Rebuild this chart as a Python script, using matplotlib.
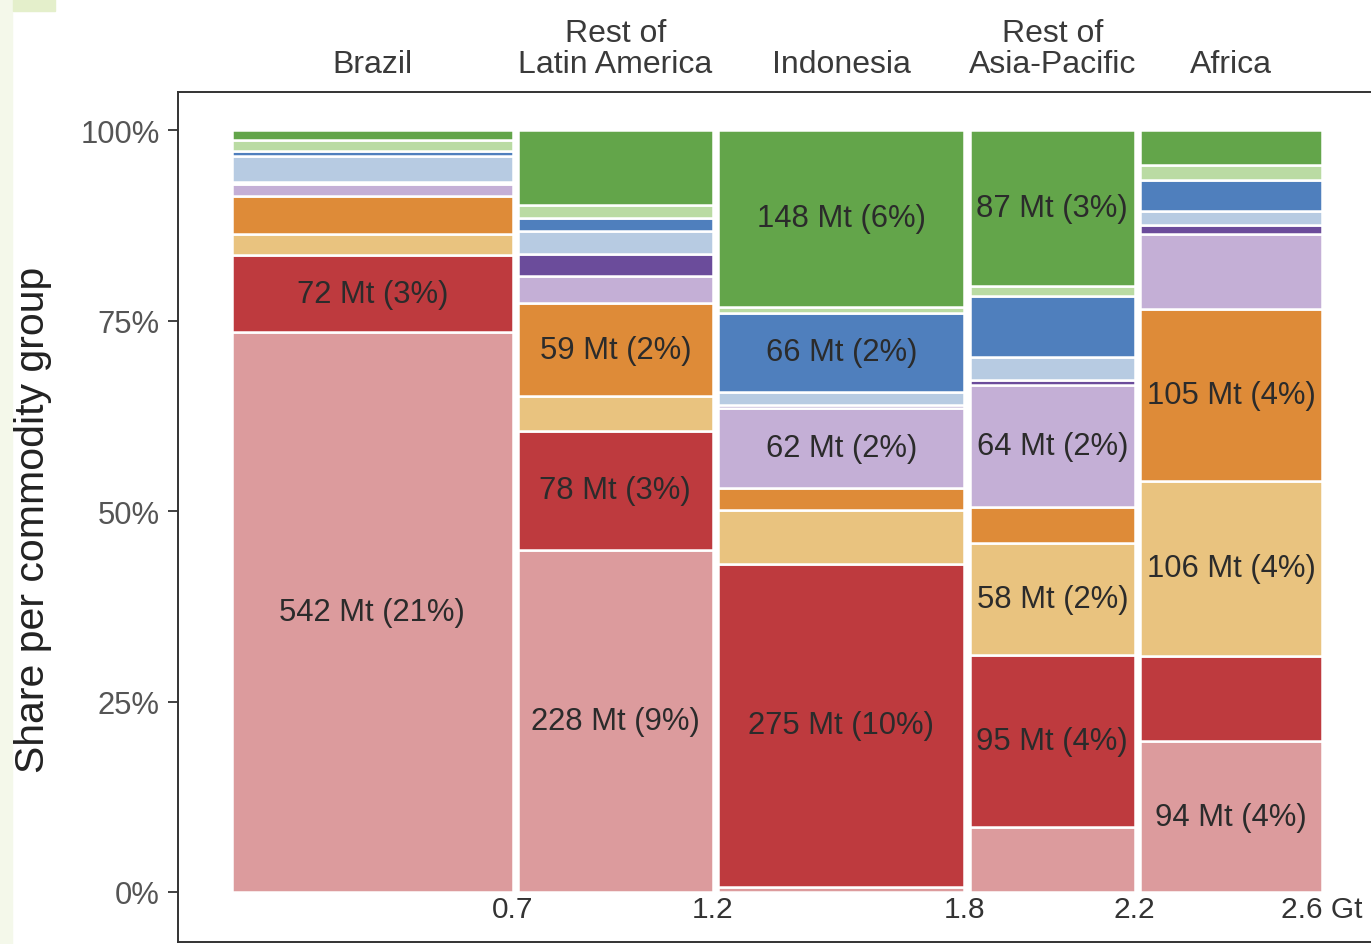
import matplotlib.pyplot as plt
import matplotlib.patches as mpatches
import numpy as np

plt.rcParams["font.family"] = ["Liberation Sans", "DejaVu Sans"]

regions = ["Brazil", "Rest of\nLatin America", "Indonesia", "Rest of\nAsia-Pacific", "Africa"]
region_total_mt = [679, 475, 598, 404, 444]

# shares (%) per commodity group, stacked bottom -> top, one value per region
share_g1 = [73.5, 44.9, 0.7, 8.5, 19.8]    # pink
share_g2 = [10.2, 15.6, 42.4, 22.6, 11.2]  # red
share_g3 = [2.8, 4.5, 7.1, 14.7, 23.0]     # tan
share_g4 = [4.9, 12.2, 2.9, 4.7, 22.6]     # orange
share_g5 = [1.6, 3.5, 10.5, 16.0, 9.8]     # light purple
share_g6 = [0.3, 3.0, 0.4, 0.7, 1.2]       # purple
share_g7 = [3.4, 3.0, 1.7, 3.0, 1.8]       # light blue
share_g8 = [0.7, 1.7, 10.4, 8.0, 4.1]      # blue
share_g9 = [1.4, 1.7, 0.8, 1.3, 2.0]       # light green
share_g10 = [1.3, 9.8, 23.2, 20.5, 4.6]    # green

# (region, group, text)
seg_labels = [
    (0, 0, "542 Mt (21%)"), (0, 1, "72 Mt (3%)"),
    (1, 0, "228 Mt (9%)"), (1, 1, "78 Mt (3%)"), (1, 3, "59 Mt (2%)"),
    (2, 1, "275 Mt (10%)"), (2, 4, "62 Mt (2%)"), (2, 7, "66 Mt (2%)"), (2, 9, "148 Mt (6%)"),
    (3, 1, "95 Mt (4%)"), (3, 2, "58 Mt (2%)"), (3, 4, "64 Mt (2%)"), (3, 9, "87 Mt (3%)"),
    (4, 0, "94 Mt (4%)"), (4, 2, "106 Mt (4%)"), (4, 3, "105 Mt (4%)"),
]

colors = ["#dc9b9d", "#be3a3e", "#e9c37f", "#de8b38", "#c4afd6",
          "#6b4c9b", "#b7cbe2", "#4f7fbd", "#badba3", "#63a54a"]

shares = np.array([share_g1, share_g2, share_g3, share_g4, share_g5,
                   share_g6, share_g7, share_g8, share_g9, share_g10], dtype=float)
shares = shares / shares.sum(axis=0)

totals = np.array(region_total_mt) / 1000.0
cum = np.cumsum(totals)
lefts = cum - totals
gap = 0.013
widths = totals - gap
centers = lefts + widths / 2

W, H = 1371, 945
fig = plt.figure(figsize=(W / 100, H / 100), dpi=100)

# faint strips left over at the top-left corner
fig.patches.append(mpatches.Rectangle((0, 0), 12 / W, 1, transform=fig.transFigure,
                                      color="#f4f8ea", zorder=0))
fig.patches.append(mpatches.Rectangle((13 / W, 1 - 12 / H), 42 / W, 12 / H,
                                      transform=fig.transFigure, color="#e4efcb", zorder=0))

ax = fig.add_axes([178 / W, 2 / H, 1212 / W, 850 / H])
px = 421.2
ax.set_xlim(-(232 - 178) / px, (1390 - 232) / px)
ax.set_ylim(-(943 - 893) / 762, 1 + (131 - 93) / 762)

bottoms = np.zeros(len(regions))
for g in range(shares.shape[0]):
    ax.bar(lefts, shares[g], width=widths, bottom=bottoms, align="edge",
           color=colors[g], edgecolor="white", linewidth=1.8)
    bottoms += shares[g]

stack_base = np.vstack([np.zeros(len(regions)), np.cumsum(shares, axis=0)])
for r, g, txt in seg_labels:
    ymid = (stack_base[g, r] + stack_base[g + 1, r]) / 2
    ax.text(centers[r], ymid, txt, ha="center", va="center", fontsize=22.3, color="#2b2b2b")

for r, name in enumerate(regions):
    ax.text(centers[r], 1 + (131 - 80) / 762, name, ha="center", va="bottom",
            fontsize=23, color="#3a3a3a", linespacing=1.05, clip_on=False)

for r in range(len(regions)):
    lab = f"{cum[r]:.1f}"
    if r == len(regions) - 1:
        lab += " Gt"
    ax.text(lefts[r] + widths[r], -(910 - 893) / 762, lab, ha="center", va="center",
            fontsize=21.5, color="#333333")

ax.set_xticks([])
ax.set_yticks([0, 0.25, 0.5, 0.75, 1.0])
ax.set_yticklabels(["0%", "25%", "50%", "75%", "100%"], fontsize=22.3, color="#555555")
ax.tick_params(axis="y", length=7, width=1.3, color="#333333", pad=6)
for side in ["left", "top", "bottom", "right"]:
    ax.spines[side].set_color("#333333")
    ax.spines[side].set_linewidth(1.4)

fig.text(33 / W, 1 - 520 / H, "Share per commodity group", rotation=90,
         ha="center", va="center", fontsize=29.5, color="#222222")

fig.savefig("out.png", dpi=100)
